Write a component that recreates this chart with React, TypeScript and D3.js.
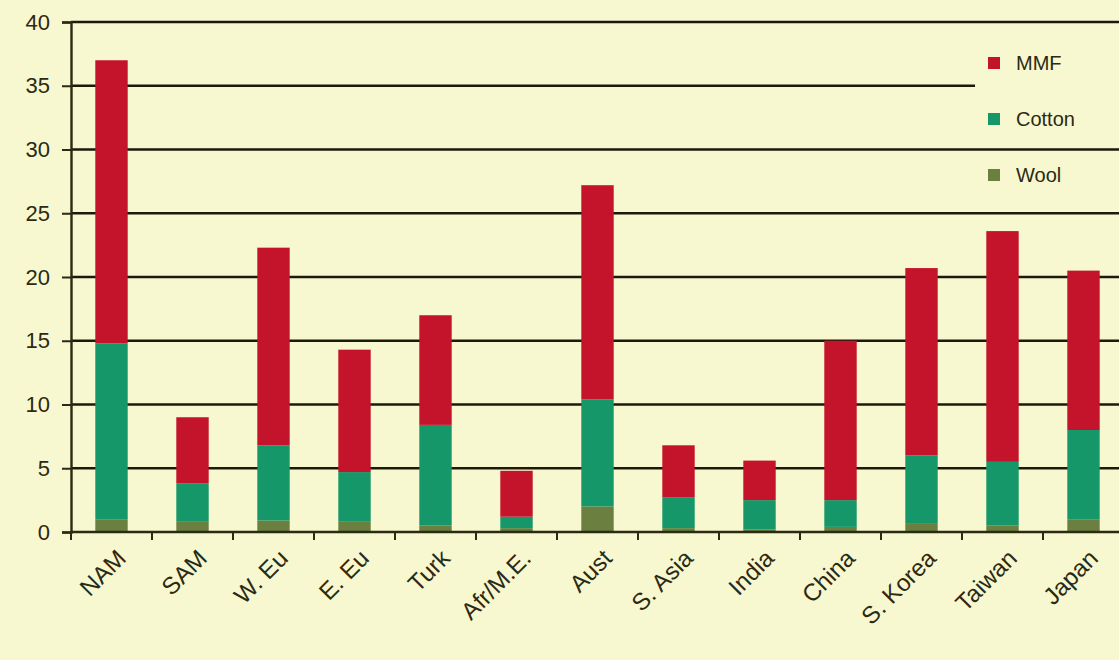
import { useEffect, useRef } from 'react'
import * as d3 from 'd3'

const regions = ['NAM', 'SAM', 'W. Eu', 'E. Eu', 'Turk', 'Afr/M.E.', 'Aust', 'S. Asia', 'India', 'China', 'S. Korea', 'Taiwan', 'Japan']
const wool = [1.0, 0.8, 0.9, 0.8, 0.5, 0.3, 2.0, 0.3, 0.2, 0.4, 0.7, 0.5, 1.0]
const cotton = [13.8, 3.0, 5.9, 3.9, 7.9, 0.9, 8.4, 2.4, 2.3, 2.1, 5.3, 5.0, 7.0]
const mmf = [22.2, 5.2, 15.5, 9.6, 8.6, 3.6, 16.8, 4.1, 3.1, 12.5, 14.7, 18.1, 12.5]
const yTicks = [0, 5, 10, 15, 20, 25, 30, 35, 40]
const seriesNames = ['Wool', 'Cotton', 'MMF']
const seriesColors = ['#6b8040', '#16976a', '#c3142b']

export default function App() {
  const svgRef = useRef<SVGSVGElement>(null)
  const width = 1119
  const height = 660

  useEffect(() => {
    const el = svgRef.current
    if (!el) return
    const svg = d3.select(el)
    svg.selectAll('*').remove()

    const margin = { top: 22, left: 71, bottom: 128 }
    const plotH = height - margin.top - margin.bottom

    const x = d3.scaleBand().domain(regions).range([margin.left, margin.left + 81 * regions.length]).paddingInner(0.6).paddingOuter(0.3)
    const y = d3.scaleLinear().domain([0, 40]).range([margin.top + plotH, margin.top])

    const ink = '#2b2a12'
    const font = 'Arial, "Liberation Sans", sans-serif'

    svg.append('rect').attr('width', width).attr('height', height).attr('fill', '#f7f7d0')

    // grid lines
    svg.append('g').selectAll('line').data(yTicks.filter(d => d > 0)).join('line')
      .attr('x1', margin.left).attr('x2', width)
      .attr('y1', d => y(d)).attr('y2', d => y(d))
      .attr('stroke', '#1c1a0c').attr('stroke-width', 2.4)

    // stacked bars
    const rows = regions.map((r, i) => ({ region: r, Wool: wool[i], Cotton: cotton[i], MMF: mmf[i] }))
    const stack = d3.stack<any>().keys(seriesNames)(rows)
    stack.forEach((layer, si) => {
      svg.append('g').selectAll('rect').data(layer).join('rect')
        .attr('x', d => x(d.data.region)!)
        .attr('width', x.bandwidth())
        .attr('y', d => y(d[1]))
        .attr('height', d => y(d[0]) - y(d[1]))
        .attr('fill', seriesColors[si])
    })

    // y axis
    svg.append('g')
      .attr('transform', `translate(${margin.left},0)`)
      .call(d3.axisLeft(y).tickValues(yTicks).tickSize(9).tickPadding(12))
      .call(ax => ax.select('.domain').attr('stroke', ink).attr('stroke-width', 2.4))
      .call(ax => ax.selectAll('.tick line').attr('stroke', ink).attr('stroke-width', 2))
      .call(ax => ax.selectAll('text')
        .attr('fill', ink).attr('font-family', font).attr('font-size', '22px'))

    // x axis
    const xAxis = svg.append('g').attr('transform', `translate(0,${y(0)})`)
    xAxis.append('line').attr('x1', margin.left).attr('x2', width)
      .attr('stroke', ink).attr('stroke-width', 2.4)
    const step = x.step()
    xAxis.selectAll('line.tk').data(d3.range(regions.length + 1)).join('line')
      .attr('class', 'tk')
      .attr('x1', i => margin.left + i * step).attr('x2', i => margin.left + i * step)
      .attr('y1', 0).attr('y2', 8)
      .attr('stroke', ink).attr('stroke-width', 2)
    xAxis.selectAll('text').data(regions).join('text')
      .attr('transform', d => `translate(${x(d)! + x.bandwidth() / 2 + 4},16) rotate(-45)`)
      .attr('text-anchor', 'end')
      .attr('dy', '0.7em')
      .attr('fill', ink).attr('font-family', font).attr('font-size', '24px')
      .text(d => d)

    // legend
    svg.append('rect').attr('x', 975).attr('y', 42).attr('width', 144).attr('height', 90).attr('fill', '#f7f7d0')
    const legendItems = ['MMF', 'Cotton', 'Wool']
    const lg = svg.append('g')
    legendItems.forEach((name, i) => {
      const cy = 63 + i * 56
      lg.append('rect').attr('x', 988).attr('y', cy - 6).attr('width', 12).attr('height', 12)
        .attr('fill', seriesColors[seriesNames.indexOf(name)])
      lg.append('text').attr('x', 1016).attr('y', cy).attr('dy', '0.35em')
        .attr('fill', ink).attr('font-family', font).attr('font-size', '20px')
        .text(name)
    })
  }, [])

  return (
    <svg
      ref={svgRef}
      width={width}
      height={height}
      style={{ position: 'absolute', left: 0, top: 0, display: 'block' }}
    />
  )
}
